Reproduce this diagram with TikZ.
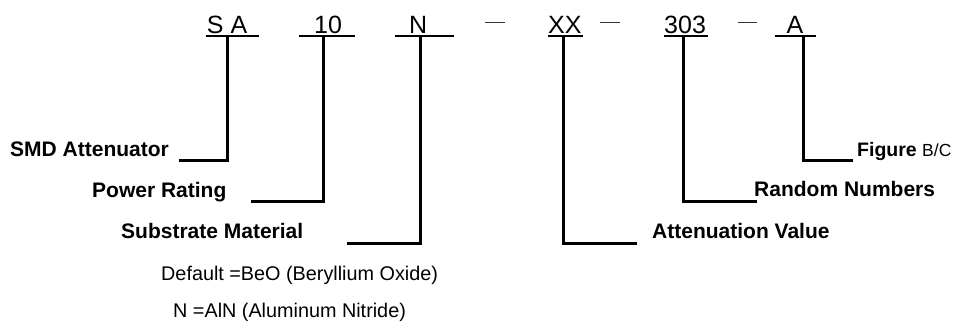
\documentclass[tikz,border=0pt]{standalone}
\usepackage{fontspec}
\setmainfont{Liberation Sans}
\begin{document}
\begin{tikzpicture}[x=1pt,y=-1pt,
  code/.style={inner sep=0pt,anchor=base west,font=\fontsize{25}{30}\selectfont},
  lbl/.style={inner sep=0pt,anchor=base west,font=\fontsize{21}{25}\selectfont\bfseries},
  note/.style={inner sep=0pt,anchor=base west,font=\fontsize{19.8}{24}\selectfont},
  uline/.style={line width=1.3pt},
  dashmark/.style={line width=1.3pt,black!80},
  conn/.style={line width=3pt,line cap=rect}]
\useasboundingbox (0,0) rectangle (963,327);
% code parts
\node[code] (sa) at (206.7,33) {S A};
\node[code] (p10) at (314,33) {10};
\node[code] (pn) at (409,33) {N};
\node[code] (pxx) at (548,33) {XX};
\node[code] (p303) at (664,33) {303};
\node[code] (pa) at (786.5,33) {A};
% underlines
\draw[uline] (205.7,36) -- (259,36);
\draw[uline] (299.3,36) -- (355,36);
\draw[uline] (395,36) -- (454,36);
\draw[uline] (548,36) -- (583,36);
\draw[uline] (664,36) -- (708,36);
\draw[uline] (775,36) -- (816,36);
% separators
\draw[dashmark] (485,22.7) -- (505,22.7);
\draw[dashmark] (600,22.7) -- (620,22.7);
\draw[dashmark] (738,22.7) -- (757,22.7);
% connector tops
\coordinate (saT) at (227.5,37);
\coordinate (p10T) at (323.5,37);
\coordinate (pnT) at (420,37);
\coordinate (pxxT) at (563,37);
\coordinate (p303T) at (683,37);
\coordinate (paT) at (803,37);
% connector ends
\coordinate (smdE) at (180,160);
\coordinate (powE) at (252,201);
\coordinate (subE) at (348,243);
\coordinate (attE) at (635,243);
\coordinate (rndE) at (755,201);
\coordinate (figE) at (851,160);
% labels
\node[lbl] (smd) at (10,156) {SMD Attenuator};
\node[lbl] (pow) at (92,197) {Power Rating};
\node[lbl] (sub) at (121,238) {Substrate Material};
\node[lbl] (att) at (652,238) {Attenuation Value};
\node[lbl] (rnd) at (754,196) {Random Numbers};
\node[inner sep=0pt,anchor=base west] (fig) at (857,156) {\fontsize{19.5}{24}\selectfont\bfseries Figure\ \fontsize{17.5}{22}\mdseries\selectfont B/C};
\node[note] (def) at (161,280) {Default =BeO (Beryllium Oxide)};
\node[note] (aln) at (173,317) {N =AlN (Aluminum Nitride)};
% connectors
\draw[conn] (saT) |- (smdE);
\draw[conn] (p10T) |- (powE);
\draw[conn] (pnT) |- (subE);
\draw[conn] (pxxT) |- (attE);
\draw[conn] (p303T) |- (rndE);
\draw[conn] (paT) |- (figE);
\end{tikzpicture}
\end{document}
